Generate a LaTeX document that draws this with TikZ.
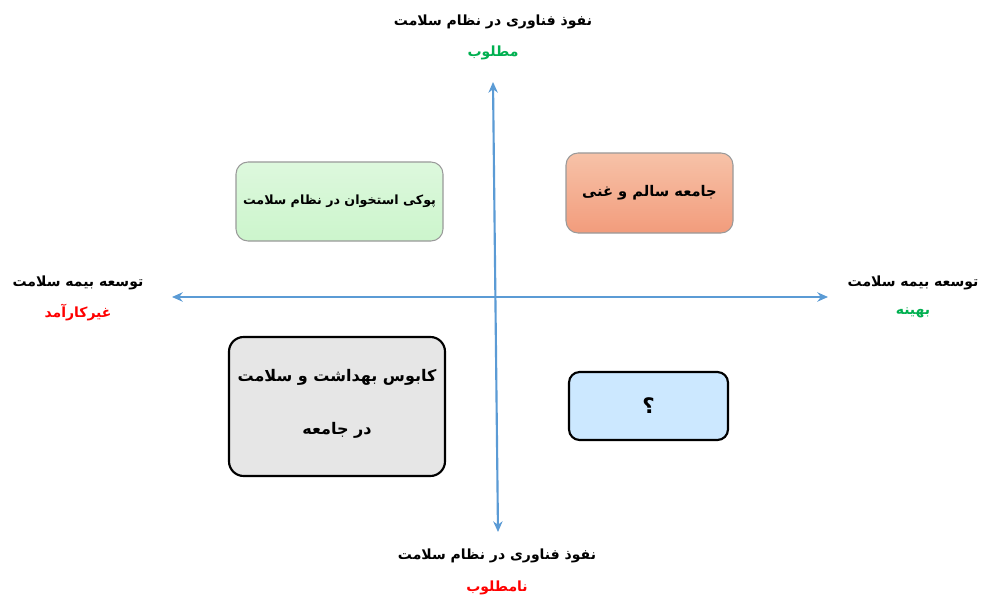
\documentclass[tikz,border=0pt]{standalone}
\usepackage{fontspec}
\TeXXeTstate=1
\newfontfamily\arabicfont[Script=Arabic]{DejaVu Sans}
\usetikzlibrary{arrows.meta}
\definecolor{axisblue}{HTML}{5B9BD5}
\definecolor{goodgreen}{HTML}{00B050}
\definecolor{badred}{HTML}{FF0000}
\definecolor{greenfill}{HTML}{CCF5CC}
\definecolor{greenfilltop}{HTML}{DDF8DD}
\definecolor{orangetop}{HTML}{F7C2A8}
\definecolor{orangebot}{HTML}{F29C7C}
\definecolor{grayfill}{HTML}{E6E6E6}
\definecolor{bluefill}{HTML}{CCE8FF}
\definecolor{softborder}{HTML}{9A9A9A}
\tikzset{
  axisline/.style={draw=axisblue, line width=1.6pt, {Stealth[length=8pt,width=7pt]}-{Stealth[length=8pt,width=7pt]}},
  axislabel/.style={font=\arabicfont\bfseries\fontsize{10.5}{13}\selectfont, inner sep=0pt},
  quadbox/.style={inner sep=0pt, align=center},
}
\begin{document}
\begin{tikzpicture}[x=0.75pt,y=-0.75pt]
\useasboundingbox (0,0) rectangle (992,599);
\fill[white] (0,0) rectangle (992,599);
% axes
\coordinate (T) at (493,82);
\coordinate (B) at (498,532);
\coordinate (L) at (172,297);
\coordinate (R) at (828,297);
\draw[axisline] (L) -- (R);
\draw[axisline] (T) -- (B);
% axis labels
\node[axislabel] (toplab) at (493,22) {\beginR نفوذ فناوری در نظام سلامت\endR};
\node[axislabel, text=goodgreen] (topval) at (493,53) {\beginR مطلوب\endR};
\node[axislabel] (botlab) at (497,556) {\beginR نفوذ فناوری در نظام سلامت\endR};
\node[axislabel, text=badred] (botval) at (497,588) {\beginR نامطلوب\endR};
\node[axislabel] (leftlab) at (78,283) {\beginR توسعه بیمه سلامت\endR};
\node[axislabel, text=badred] (leftval) at (78,313) {\beginR غیرکارآمد\endR};
\node[axislabel] (rightlab) at (913,283) {\beginR توسعه بیمه سلامت\endR};
\node[axislabel, text=goodgreen] (rightval) at (913,313) {\beginR بهینه\endR};
% boxes
\shade[rounded corners=9pt, top color=greenfilltop, bottom color=greenfill, draw=softborder, line width=0.8pt] (236,162) rectangle (443,241);
\node[quadbox, font=\arabicfont\bfseries\fontsize{9.5}{12}\selectfont] (green) at (339.5,201.5) {\beginR پوکی استخوان در نظام سلامت\endR};
\shade[rounded corners=9pt, top color=orangetop, bottom color=orangebot, draw=softborder, line width=0.8pt] (566,153) rectangle (733,233);
\node[quadbox, font=\arabicfont\bfseries\fontsize{11}{13}\selectfont] (orange) at (649.5,193) {\beginR جامعه سالم و غنی\endR};
\filldraw[rounded corners=11pt, fill=grayfill, draw=black, line width=1.6pt] (229,337) rectangle (445,476);
\node[quadbox, font=\arabicfont\bfseries\fontsize{12}{40}\selectfont] (gray) at (337,404) {\beginR کابوس بهداشت و سلامت\endR\\\beginR در جامعه\endR};
\filldraw[rounded corners=8pt, fill=bluefill, draw=black, line width=1.6pt] (569,372) rectangle (728,440);
\node[quadbox, font=\arabicfont\bfseries\fontsize{16}{18}\selectfont] (blue) at (648.5,406) {\beginR ؟\endR};
\end{tikzpicture}
\end{document}
